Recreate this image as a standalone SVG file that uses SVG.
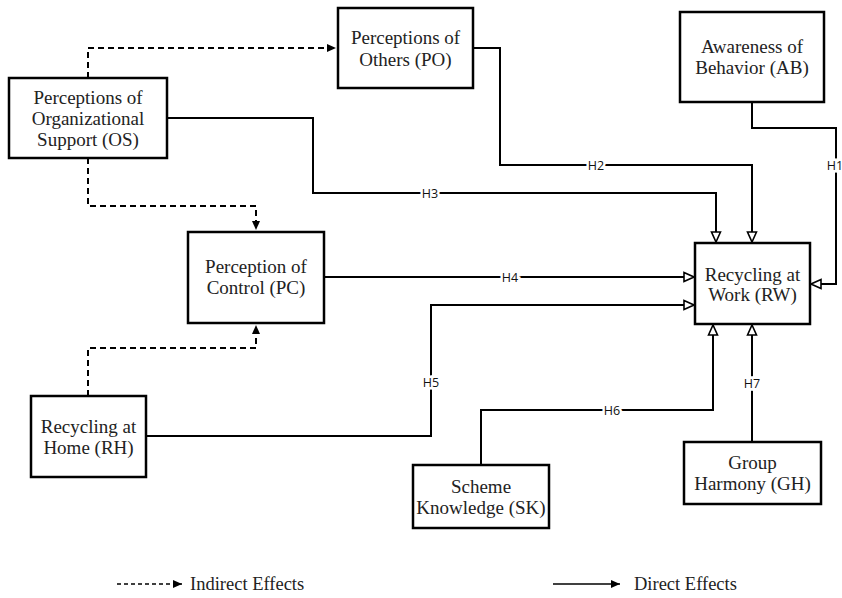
<svg xmlns="http://www.w3.org/2000/svg" width="842" height="598" viewBox="0 0 842 598">
<style>
.box{fill:#fff;stroke:#000;stroke-width:2.5}
.t{font-family:"Liberation Serif","Times New Roman",serif;font-size:19px;fill:#222;text-anchor:middle}
.d{fill:none;stroke:#000;stroke-width:2}
.i{fill:none;stroke:#000;stroke-width:2;stroke-dasharray:6,4}
.h{font-family:"Open Sans","Noto Sans",sans-serif;font-size:12.5px;fill:#111;text-anchor:middle;stroke:#fff;stroke-width:5;paint-order:stroke}
.lg{font-family:"Liberation Serif","Times New Roman",serif;font-size:18.5px;fill:#222}
</style>
<defs>
<marker id="open" viewBox="0 0 12 12" refX="11" refY="6" markerWidth="12" markerHeight="12" markerUnits="userSpaceOnUse" orient="auto">
<path d="M1,1.5 L11,6 L1,10.5 Z" fill="#fff" stroke="#000" stroke-width="1.6"/>
</marker>
<marker id="fill" viewBox="0 0 10 10" refX="9" refY="5" markerWidth="10" markerHeight="10" markerUnits="userSpaceOnUse" orient="auto">
<path d="M0,1 L9,5 L0,9 Z" fill="#000"/>
</marker>
</defs>
<rect width="842" height="598" fill="#fff"/>
<g id="connectors">
<path class="i" d="M88,78 V48 H336" marker-end="url(#fill)"/>
<path class="i" d="M88,158 V206 H256 V230" marker-end="url(#fill)"/>
<path class="i" d="M88,396 V348 H256 V325" marker-end="url(#fill)"/>
<path class="d" d="M167,118 H313 V193 H716 V242" marker-end="url(#open)"/>
<path class="d" d="M473,48 H500 V165 H752 V242" marker-end="url(#open)"/>
<path class="d" d="M752,102 V128 H836 V284 H811" marker-end="url(#open)"/>
<path class="d" d="M324,277 H694" marker-end="url(#open)"/>
<path class="d" d="M146,436 H431 V305 H694" marker-end="url(#open)"/>
<path class="d" d="M481,465 V410 H713 V325" marker-end="url(#open)"/>
<path class="d" d="M752,442 V325" marker-end="url(#open)"/>
<text class="h" x="596" y="169.5">H2</text>
<text class="h" x="430" y="197.5">H3</text>
<text class="h" x="835" y="169.5">H1</text>
<text class="h" x="510" y="281.5">H4</text>
<text class="h" x="431" y="386.5">H5</text>
<text class="h" x="612" y="414.5">H6</text>
<text class="h" x="752" y="387.5">H7</text>
</g>
<g id="OS"><rect class="box" x="9" y="78" width="158" height="80"/>
<text class="t" x="88" y="104">Perceptions of</text><text class="t" x="88" y="125">Organizational</text><text class="t" x="88" y="146">Support (OS)</text></g>
<g id="PO"><rect class="box" x="338" y="8" width="135" height="80"/>
<text class="t" x="405.5" y="44">Perceptions of</text><text class="t" x="405.5" y="66">Others (PO)</text></g>
<g id="AB"><rect class="box" x="680" y="12" width="144" height="90"/>
<text class="t" x="752" y="53">Awareness of</text><text class="t" x="752" y="74">Behavior (AB)</text></g>
<g id="PC"><rect class="box" x="188" y="232" width="136" height="91"/>
<text class="t" x="256" y="273">Perception of</text><text class="t" x="256" y="294">Control (PC)</text></g>
<g id="RW"><rect class="box" x="695" y="243" width="115" height="81"/>
<text class="t" x="752.5" y="281">Recycling at</text><text class="t" x="752.5" y="301">Work (RW)</text></g>
<g id="RH"><rect class="box" x="31" y="396" width="115" height="81"/>
<text class="t" x="88.5" y="433">Recycling at</text><text class="t" x="88.5" y="454">Home (RH)</text></g>
<g id="SK"><rect class="box" x="413" y="465" width="136" height="63"/>
<text class="t" x="481" y="493">Scheme</text><text class="t" x="481" y="514">Knowledge (SK)</text></g>
<g id="GH"><rect class="box" x="684" y="442" width="137" height="62"/>
<text class="t" x="752.5" y="469">Group</text><text class="t" x="752.5" y="490">Harmony (GH)</text></g>
<g id="legend">
<path d="M117,584 H182" fill="none" stroke="#000" stroke-width="1.6" stroke-dasharray="4,3" marker-end="url(#fill)"/>
<text class="lg" x="190" y="590">Indirect Effects</text>
<path d="M553,584 H620" fill="none" stroke="#000" stroke-width="1.6" marker-end="url(#fill)"/>
<text class="lg" x="634" y="590">Direct Effects</text>
</g>
</svg>
